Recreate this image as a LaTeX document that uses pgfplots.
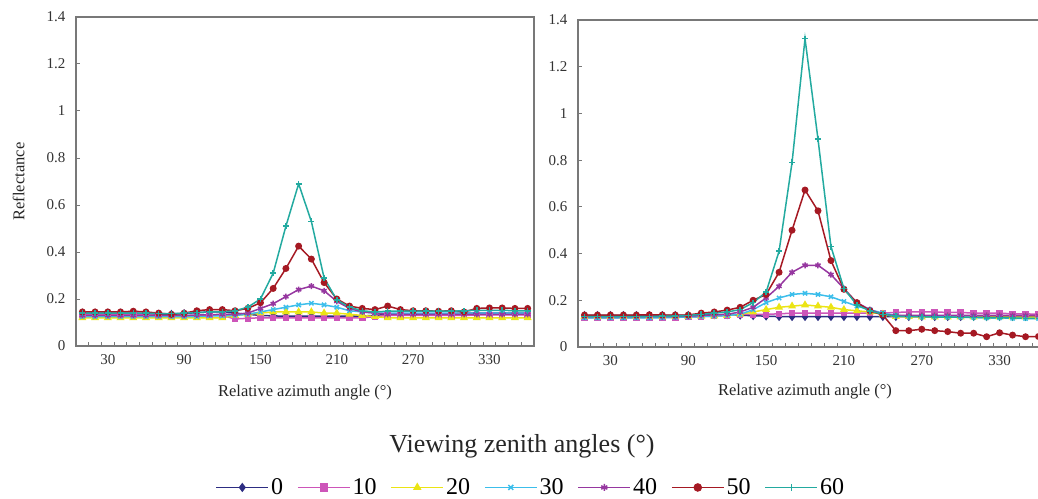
\documentclass[border=0pt]{standalone}
\usepackage{fontspec}
\setmainfont{Liberation Serif}
\usepackage{pgfplots}
\usepackage{pgfplotstable}
\pgfplotsset{compat=1.18}

\definecolor{c0}{RGB}{45,45,130}
\definecolor{c10}{RGB}{205,85,185}
\definecolor{c20}{RGB}{235,228,20}
\definecolor{c30}{RGB}{60,190,235}
\definecolor{c40}{RGB}{150,55,160}
\definecolor{c50}{RGB}{165,25,35}
\definecolor{c60}{RGB}{35,170,160}
\definecolor{axgray}{RGB}{120,120,120}

\pgfplotstableread{
x   s0   s10  s20  s30  s40  s50  s60
10  .140 .135 .120 .125 .130 .145 .140
20  .140 .135 .120 .125 .130 .145 .140
30  .140 .135 .120 .125 .130 .145 .140
40  .140 .135 .120 .125 .130 .145 .140
50  .140 .135 .120 .125 .130 .148 .140
60  .138 .133 .120 .125 .130 .145 .140
70  .135 .130 .120 .125 .130 .140 .138
80  .135 .125 .120 .125 .130 .135 .138
90  .138 .125 .120 .125 .130 .140 .140
100 .142 .128 .120 .125 .132 .150 .142
110 .145 .130 .120 .128 .133 .155 .145
120 .145 .130 .120 .128 .135 .155 .145
130 .140 .115 .130 .130 .135 .150 .150
140 .135 .118 .135 .135 .140 .160 .165
150 .130 .120 .140 .145 .160 .184 .200
160 .128 .120 .145 .155 .180 .245 .310
170 .127 .120 .145 .165 .210 .330 .510
180 .127 .120 .145 .175 .240 .425 .690
190 .127 .120 .145 .182 .255 .370 .530
200 .127 .120 .140 .175 .235 .270 .290
210 .127 .120 .140 .165 .190 .200 .196
220 .127 .120 .135 .150 .160 .170 .165
230 .128 .120 .130 .145 .145 .160 .150
240 .130 .125 .125 .140 .140 .155 .145
250 .135 .130 .120 .140 .135 .170 .148
260 .135 .130 .120 .140 .135 .155 .148
270 .135 .130 .120 .140 .135 .150 .148
280 .135 .130 .120 .140 .135 .150 .148
290 .135 .130 .120 .140 .135 .148 .148
300 .138 .130 .120 .140 .135 .150 .148
310 .140 .130 .120 .140 .135 .145 .150
320 .140 .132 .120 .140 .135 .160 .152
330 .140 .132 .120 .140 .135 .162 .152
340 .140 .132 .120 .140 .135 .162 .152
350 .140 .132 .120 .140 .135 .160 .150
360 .140 .132 .120 .140 .135 .160 .150
}\dataA

\pgfplotstableread{
x   s0   s10  s20  s30  s40  s50  s60
10  .135 .125 .130 .125 .130 .137 .130
20  .135 .125 .130 .125 .130 .137 .130
30  .135 .125 .130 .125 .130 .137 .130
40  .135 .125 .130 .125 .130 .137 .130
50  .135 .125 .130 .125 .130 .137 .130
60  .135 .127 .130 .125 .130 .138 .130
70  .135 .127 .130 .125 .130 .137 .132
80  .135 .127 .130 .127 .130 .137 .132
90  .135 .128 .130 .128 .132 .137 .135
100 .137 .130 .132 .130 .135 .145 .140
110 .138 .132 .133 .132 .138 .150 .145
120 .138 .135 .135 .135 .140 .158 .150
130 .136 .140 .140 .140 .150 .170 .160
140 .134 .140 .150 .160 .170 .200 .190
150 .132 .140 .160 .190 .210 .225 .235
160 .130 .142 .170 .210 .260 .320 .410
170 .130 .145 .175 .225 .320 .500 .790
180 .130 .145 .180 .230 .350 .672 1.320
190 .130 .145 .175 .225 .350 .583 .890
200 .130 .145 .170 .215 .310 .370 .430
210 .130 .145 .160 .195 .250 .247 .250
220 .130 .145 .155 .175 .190 .190 .180
230 .130 .145 .150 .160 .160 .155 .155
240 .130 .145 .140 .145 .140 .137 .140
250 .130 .148 .130 .135 .135 .070 .132
260 .130 .150 .130 .132 .135 .070 .130
270 .130 .150 .128 .130 .135 .076 .130
280 .130 .150 .128 .130 .135 .070 .128
290 .130 .148 .128 .128 .135 .066 .128
300 .130 .148 .128 .128 .135 .059 .127
310 .130 .145 .128 .127 .135 .059 .126
320 .130 .145 .128 .125 .135 .044 .125
330 .130 .145 .128 .125 .135 .061 .125
340 .130 .142 .128 .123 .135 .051 .124
350 .130 .142 .128 .122 .135 .044 .123
360 .130 .140 .128 .122 .135 .045 .122
}\dataB

\pgfplotsset{
  sz0/.style={c0, line width=1.5pt, mark=diamond*, mark size=3.3pt, mark options={fill=c0}},
  sz10/.style={c10, line width=1.5pt, mark=square*, mark size=2.5pt, mark options={fill=c10}},
  sz20/.style={c20, line width=1.5pt, mark=triangle*, mark size=3.2pt, mark options={fill=c20}},
  sz30/.style={c30, line width=1.5pt, mark=x, mark size=3pt},
  sz40/.style={c40, line width=1.5pt, mark=asterisk, mark size=3pt},
  sz50/.style={c50, line width=1.5pt, mark=*, mark size=2.7pt, mark options={fill=c50}},
  sz60/.style={c60, line width=1.5pt, mark=+, mark size=3pt},
  myax/.style={
    scale only axis,
    anchor=south west,
    xmin=5, xmax=365, ymin=0, ymax=1.4,
    xtick={30,90,150,210,270,330},
    ytick={0,0.2,0.4,0.6,0.8,1,1.2,1.4},
    minor xtick={15,25,...,355},
    xtick pos=lower, ytick pos=left,
    tick align=inside,
    major tick length=4pt, minor tick length=4pt,
    major x tick style={draw=none},
    tick style={axgray, line width=1pt},
    axis line style={axgray, line width=1.6pt},
    ticklabel style={font=\fontsize{15}{17}\selectfont, text=black!80},
    /pgf/number format/assume math mode=true,
    xticklabel style={yshift=-5pt},
    yticklabel style={xshift=-7pt},
    xlabel={Relative azimuth angle (°)},
    label style={font=\fontsize{16.5}{18}\selectfont, text=black!85},
  },
}

\begin{document}
\begin{tikzpicture}
\useasboundingbox (0pt,0pt) rectangle (1038pt,498pt);

\begin{axis}[myax,
  at={(76pt,152pt)}, width=458pt, height=329pt,
  xlabel style={at={(axis description cs:0.5,-0.14)}, anchor=center},
  ylabel={Reflectance},
  ylabel style={at={(axis description cs:-0.125,0.5)}, anchor=center, rotate=0},
  legend columns=7,
  legend style={draw=none, fill=none, at={(axis description cs:0.993,-0.43)}, anchor=center,
    font=\fontsize{24}{26}\selectfont, inner sep=0pt,
    /tikz/every even column/.append style={column sep=12pt}},
  legend image code/.code={\draw[mark repeat=2,mark phase=2,mark size=3.5pt] plot coordinates {(0pt,0pt) (26pt,0pt) (52pt,0pt)};},
]
\addplot[sz0]  table[x=x,y=s0]  {\dataA}; \addlegendentry{0}
\addplot[sz10] table[x=x,y=s10] {\dataA}; \addlegendentry{10}
\addplot[sz20] table[x=x,y=s20] {\dataA}; \addlegendentry{20}
\addplot[sz30] table[x=x,y=s30] {\dataA}; \addlegendentry{30}
\addplot[sz40] table[x=x,y=s40] {\dataA}; \addlegendentry{40}
\addplot[sz50] table[x=x,y=s50] {\dataA}; \addlegendentry{50}
\addplot[sz60] table[x=x,y=s60] {\dataA}; \addlegendentry{60}
\end{axis}

\begin{axis}[myax,
  at={(578pt,151pt)}, width=467pt, height=327pt,
  xlabel style={at={(axis description cs:0.486,-0.137)}, anchor=center},
]
\addplot[sz0]  table[x=x,y=s0]  {\dataB};
\addplot[sz10] table[x=x,y=s10] {\dataB};
\addplot[sz20] table[x=x,y=s20] {\dataB};
\addplot[sz30] table[x=x,y=s30] {\dataB};
\addplot[sz40] table[x=x,y=s40] {\dataB};
\addplot[sz50] table[x=x,y=s50] {\dataB};
\addplot[sz60] table[x=x,y=s60] {\dataB};
\end{axis}

\node[font=\fontsize{26}{28}\selectfont, text=black!85] at (522pt,52pt) {Viewing zenith angles (°)};
\end{tikzpicture}
\end{document}
